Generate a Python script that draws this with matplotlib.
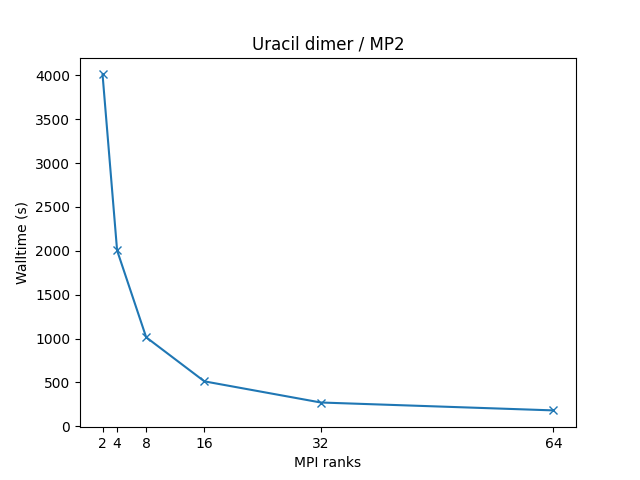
import matplotlib
matplotlib.use("Agg")
import matplotlib.pyplot as plt

ranks = [2, 4, 8, 16, 32, 64]
walltime = [4010, 2005, 1015, 513, 272, 182]

fig, ax = plt.subplots(figsize=(6.4, 4.8), dpi=100)
ax.plot(ranks, walltime, marker="x")
ax.set_xticks(ranks)
ax.set_xlabel("MPI ranks")
ax.set_ylabel("Walltime (s)")
ax.set_title("Uracil dimer / MP2")
fig.savefig("out.png")
